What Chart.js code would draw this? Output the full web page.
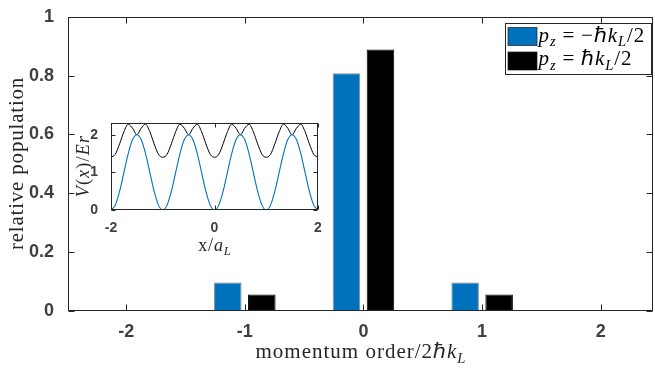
<!DOCTYPE html>
<html><head><meta charset="utf-8">
<script src="https://cdn.jsdelivr.net/npm/chart.js@4/dist/chart.umd.min.js"></script>
<style>
html,body{margin:0;padding:0;background:#fff;overflow:hidden}
#wrap{position:relative;width:655px;height:369px}
#main{position:absolute;left:0;top:0}
#inset{position:absolute;left:60px;top:110px}
</style></head><body>
<div id="wrap"><canvas id="main" width="655" height="369"></canvas><canvas id="inset" width="270" height="150"></canvas></div>
<script>
// ---- data ----
const momentumOrders = [-2, -1, 0, 1, 2];
const popMinus = [0, 0.097, 0.808, 0.097, 0];
const popPlus = [0, 0.056, 0.889, 0.056, 0];
const seriesNames = ['$p_z = −ℏk_L/2$', '$p_z = ℏk_L/2$'];
const seriesColors = ['#0072BD', '#000000'];
const xTicksMain = [-2, -1, 0, 1, 2];
const yTicksMain = [0, 0.2, 0.4, 0.6, 0.8, 1];
const xTitleMain = 'momentum order/2$ℏk_L$';
const yTitleMain = 'relative population';

const insetX = [-2, -1.917, -1.833, -1.75, -1.667, -1.583, -1.5, -1.417, -1.333, -1.25, -1.167, -1.083,
  -1, -0.917, -0.833, -0.75, -0.667, -0.583, -0.5, -0.417, -0.333, -0.25, -0.167, -0.083,
  0, 0.083, 0.167, 0.25, 0.333, 0.417, 0.5, 0.583, 0.667, 0.75, 0.833, 0.917,
  1, 1.083, 1.167, 1.25, 1.333, 1.417, 1.5, 1.583, 1.667, 1.75, 1.833, 1.917, 2];
const insetBlue = [0, 0.13, 0.5, 1.0, 1.5, 1.87, 2.0, 1.87, 1.5, 1.0, 0.5, 0.13,
  0, 0.13, 0.5, 1.0, 1.5, 1.87, 2.0, 1.87, 1.5, 1.0, 0.5, 0.13,
  0, 0.13, 0.5, 1.0, 1.5, 1.87, 2.0, 1.87, 1.5, 1.0, 0.5, 0.13,
  0, 0.13, 0.5, 1.0, 1.5, 1.87, 2.0, 1.87, 1.5, 1.0, 0.5, 0.13, 0];
const insetBlack = [1.40, 1.48, 1.76, 2.08, 2.28, 2.17, 2.00, 2.17, 2.28, 2.08, 1.76, 1.48,
  1.40, 1.48, 1.76, 2.08, 2.28, 2.17, 2.00, 2.17, 2.28, 2.08, 1.76, 1.48,
  1.40, 1.48, 1.76, 2.08, 2.28, 2.17, 2.00, 2.17, 2.28, 2.08, 1.76, 1.48,
  1.40, 1.48, 1.76, 2.08, 2.28, 2.17, 2.00, 2.17, 2.28, 2.08, 1.76, 1.48, 1.40];
const insetXTicks = [-2, 0, 2];
const insetYTicks = [0, 1, 2];
const insetXTitle = 'x/$a_L$';
const insetYTitle = '$V(x)/Er$';

// ---- rich text helper ----
const SERIF = '"Liberation Serif","Times New Roman",serif';
function parseRich(str){
  const segs = []; let math = false;
  for (let i = 0; i < str.length; i++) {
    let c = str[i];
    if (c === '$') { math = !math; continue; }
    let sub = false;
    if (c === '_') { sub = true; i++; c = str[i]; }
    if (math && c === ' ') continue;
    const italic = math && /[A-Za-z]/.test(c);
    const pad = (math && c === '=') ? 0.28 : 0;
    segs.push({t: c, italic, sub, pad});
  }
  return segs;
}
function drawRich(ctx, str, x, y, size, align, color, extra){
  extra = extra || 0;
  const segs = parseRich(str);
  const fontOf = s => (s.italic ? 'italic ' : '') + (s.sub ? size * 0.7 : size) + 'px ' + SERIF;
  let w = 0;
  segs.forEach(s => { ctx.font = fontOf(s); s.w = ctx.measureText(s.t).width + 2 * s.pad * size + extra; w += s.w; });
  w -= extra;
  let cx = align === 'center' ? x - w / 2 : x;
  ctx.fillStyle = color; ctx.textBaseline = 'alphabetic'; ctx.textAlign = 'left';
  segs.forEach(s => {
    ctx.font = fontOf(s);
    ctx.fillText(s.t, cx + s.pad * size, y + (s.sub ? size * 0.22 : 0));
    cx += s.w;
  });
}

// ---- MATLAB-style box, inward ticks, titles, legend ----
function boxTicks(chart, len){
  const {ctx, chartArea: a, scales: {x, y}} = chart;
  const L = Math.round(a.left) + 0.5, R = Math.round(a.right) - 0.5;
  const T = Math.round(a.top) + 0.5, B = Math.round(a.bottom) - 0.5;
  ctx.save();
  ctx.strokeStyle = '#262626'; ctx.lineWidth = 1;
  ctx.beginPath();
  x.ticks.forEach(t => {
    const p = Math.round(x.getPixelForValue(t.value)) + 0.5;
    ctx.moveTo(p, B); ctx.lineTo(p, B - len);
    ctx.moveTo(p, T); ctx.lineTo(p, T + len);
  });
  y.ticks.forEach(t => {
    const p = Math.round(y.getPixelForValue(t.value)) + 0.5;
    ctx.moveTo(L, p); ctx.lineTo(L + len, p);
    ctx.moveTo(R, p); ctx.lineTo(R - len, p);
  });
  ctx.stroke();
  ctx.strokeRect(L, T, R - L, B - T);
  ctx.restore();
}

const mainPlugin = {
  id: 'mainDeco',
  afterDraw(chart){
    const {ctx, chartArea: a} = chart;
    boxTicks(chart, 6);
    drawRich(ctx, xTitleMain, (a.left + a.right) / 2, 358, 21, 'center', '#262626', 1);
    ctx.save();
    ctx.translate(23, (a.top + a.bottom) / 2);
    ctx.rotate(-Math.PI / 2);
    drawRich(ctx, yTitleMain, 0, 0, 21, 'center', '#262626', 0.8);
    ctx.restore();
    // legend
    const x0 = Math.round(a.right) - 147.5, y0 = Math.round(a.top) + 6.5, w = 146, h = 51;
    ctx.save();
    ctx.fillStyle = '#fff'; ctx.fillRect(x0, y0, w, h);
    ctx.strokeStyle = '#262626'; ctx.lineWidth = 1; ctx.strokeRect(x0, y0, w, h);
    chart.data.datasets.forEach((ds, i) => {
      const sy = y0 + 4 + i * 24.5;
      ctx.fillStyle = ds.backgroundColor;
      ctx.fillRect(x0 + 2.5, sy, 29, 18);
      ctx.strokeStyle = 'rgba(30,30,30,0.7)';
      ctx.strokeRect(x0 + 2.5, sy, 29, 18);
      drawRich(ctx, ds.label, x0 + 33, y0 + 18 + i * 23.5, 21, 'left', '#000', 0.9);
    });
    ctx.restore();
  }
};

const tickFont = {family: '"Liberation Sans", Arial, Helvetica, sans-serif', weight: 'bold'};
const plainLabel = v => String(v);

new Chart(document.getElementById('main'), {
  type: 'bar',
  data: {
    labels: momentumOrders,
    datasets: [
      {label: seriesNames[0], data: popMinus, backgroundColor: seriesColors[0], borderColor: 'rgba(40,40,40,0.55)', borderWidth: 1},
      {label: seriesNames[1], data: popPlus, backgroundColor: seriesColors[1], borderColor: '#000', borderWidth: 1}
    ]
  },
  options: {
    responsive: false, animation: false, devicePixelRatio: 1,
    datasets: {bar: {categoryPercentage: 0.573, barPercentage: 0.81, borderSkipped: 'start'}},
    layout: {padding: {left: 0, top: 11, right: 2, bottom: 0}},
    plugins: {legend: {display: false}, tooltip: {enabled: false}},
    scales: {
      x: {
        type: 'linear', offset: false, min: -2.49, max: 2.44,
        grid: {display: false, offset: false}, border: {display: false},
        afterBuildTicks: s => { s.ticks = xTicksMain.map(v => ({value: v})); },
        afterFit: s => { s.height = 58; },
        ticks: {font: {...tickFont, size: 18}, color: '#404040', padding: 2, maxRotation: 0, autoSkip: false, callback: plainLabel}
      },
      y: {
        min: 0, max: 1,
        grid: {display: false}, border: {display: false},
        afterBuildTicks: s => { s.ticks = yTicksMain.map(v => ({value: v})); },
        afterFit: s => { s.width = 68; },
        ticks: {font: {...tickFont, size: 18}, color: '#404040', padding: 6, autoSkip: false, callback: plainLabel}
      }
    }
  },
  plugins: [mainPlugin]
});

const insetPlugin = {
  id: 'insetDeco',
  beforeDraw(chart){
    const {ctx, chartArea: a} = chart;
    ctx.save(); ctx.fillStyle = '#fff';
    ctx.fillRect(a.left, a.top, a.right - a.left, a.bottom - a.top);
    ctx.restore();
  },
  afterDraw(chart){
    const {ctx, chartArea: a} = chart;
    boxTicks(chart, 4);
    drawRich(ctx, insetXTitle, (a.left + a.right) / 2, 141, 18, 'center', '#262626', 0.8);
    ctx.save();
    ctx.translate(29, (a.top + a.bottom) / 2);
    ctx.rotate(-Math.PI / 2);
    drawRich(ctx, insetYTitle, 0, 0, 18, 'center', '#262626', 1.2);
    ctx.restore();
  }
};

new Chart(document.getElementById('inset'), {
  type: 'line',
  data: {
    datasets: [
      {label: 'blue', data: insetX.map((x, i) => ({x, y: insetBlue[i]})), borderColor: '#0072BD', borderWidth: 1.1, pointRadius: 0, cubicInterpolationMode: 'monotone', fill: false},
      {label: 'black', data: insetX.map((x, i) => ({x, y: insetBlack[i]})), borderColor: '#000', borderWidth: 1, pointRadius: 0, cubicInterpolationMode: 'monotone', fill: false}
    ]
  },
  options: {
    responsive: false, animation: false, devicePixelRatio: 1,
    layout: {padding: {left: 0, top: 13, right: 12, bottom: 0}},
    plugins: {legend: {display: false}, tooltip: {enabled: false}},
    scales: {
      x: {
        type: 'linear', min: -2, max: 2,
        grid: {display: false}, border: {display: false},
        afterBuildTicks: s => { s.ticks = insetXTicks.map(v => ({value: v})); },
        afterFit: s => { s.height = 50; },
        ticks: {font: {...tickFont, size: 14}, color: '#404040', padding: 2, maxRotation: 0, autoSkip: false, callback: plainLabel}
      },
      y: {
        min: 0, max: 2.3,
        grid: {display: false}, border: {display: false},
        afterBuildTicks: s => { s.ticks = insetYTicks.map(v => ({value: v})); },
        afterFit: s => { s.width = 51; },
        ticks: {font: {...tickFont, size: 14}, color: '#404040', padding: 5, autoSkip: false, callback: plainLabel}
      }
    }
  },
  plugins: [insetPlugin]
});
</script>
</body></html>
